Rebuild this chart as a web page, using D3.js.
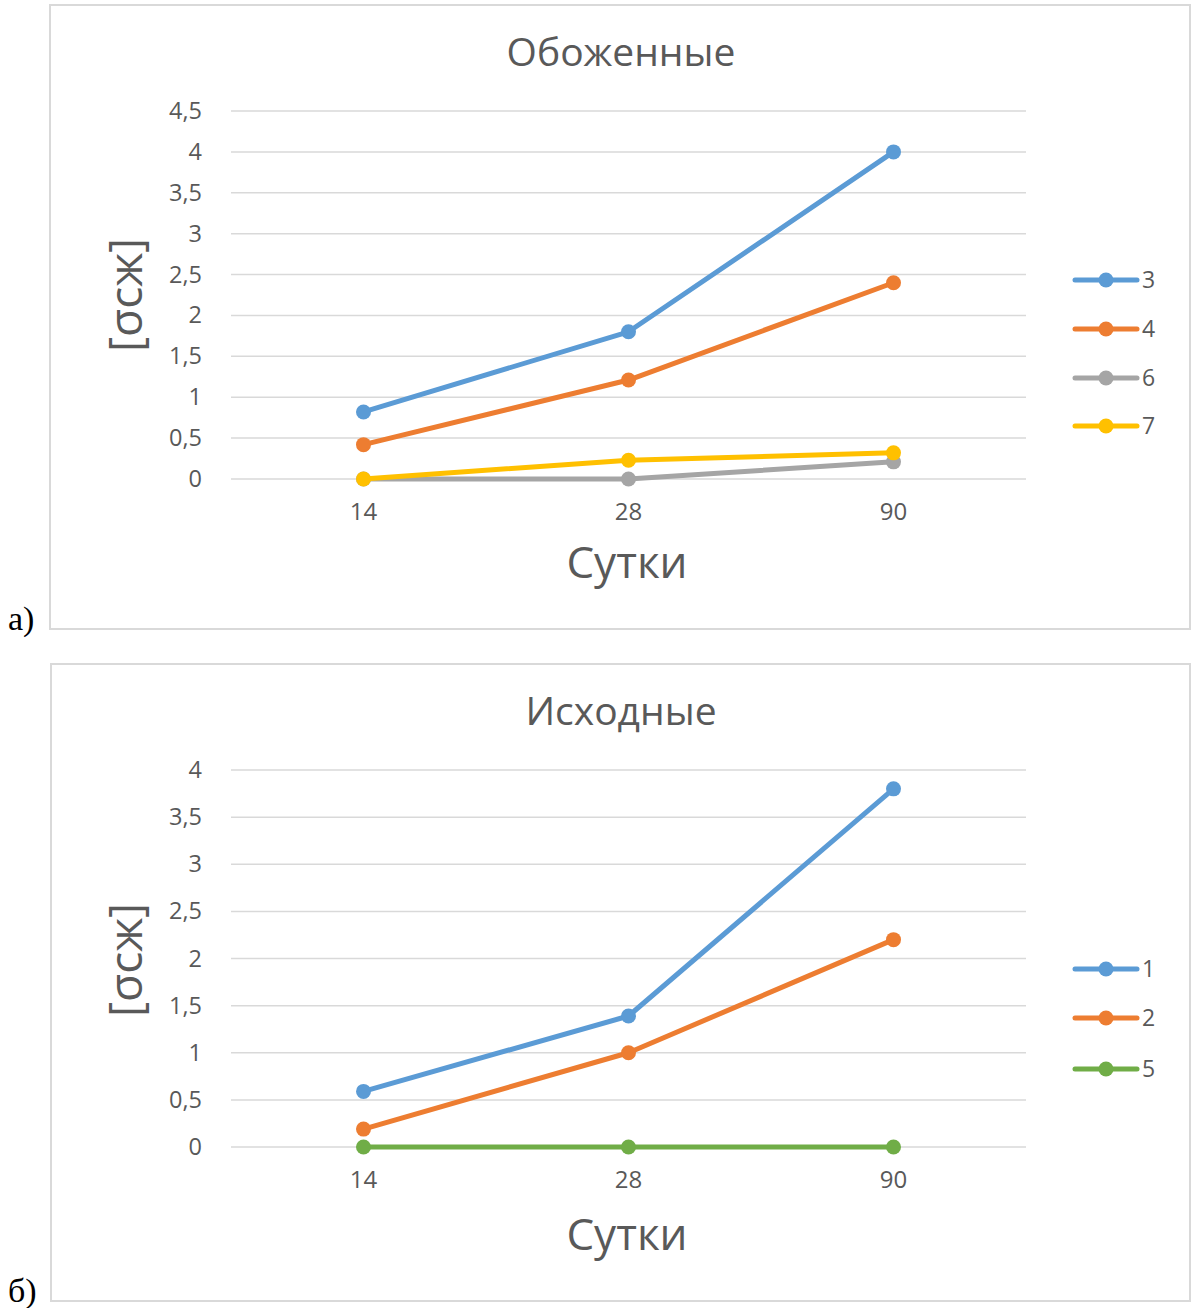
<!DOCTYPE html>
<html>
<head>
<meta charset="utf-8">
<title>Обоженные / Исходные</title>
<script src="https://d3js.org/d3.v7.min.js"></script>
<style>
  body { margin: 0; background: #fff; }
  svg { display: block; }
</style>
</head>
<body>
<svg id="chart" width="1192" height="1308"></svg>
<script>
// categories (days)
var days = ["14", "28", "90"];

// chart a) - burnt samples
var seriesA = ["3", "4", "6", "7"];
var valuesA3 = [0.82, 1.8, 4.0];
var valuesA4 = [0.42, 1.21, 2.4];
var valuesA6 = [0, 0, 0.21];
var valuesA7 = [0, 0.23, 0.32];
var ticksA = [0, 0.5, 1, 1.5, 2, 2.5, 3, 3.5, 4, 4.5];

// chart б) - initial samples
var seriesB = ["1", "2", "5"];
var valuesB1 = [0.59, 1.39, 3.8];
var valuesB2 = [0.19, 1.0, 2.2];
var valuesB5 = [0, 0, 0];
var ticksB = [0, 0.5, 1, 1.5, 2, 2.5, 3, 3.5, 4];

var colors = {
  "1": "#5B9BD5", "2": "#ED7D31", "3": "#5B9BD5", "4": "#ED7D31",
  "5": "#70AD47", "6": "#A5A5A5", "7": "#FFC000"
};

var svg = d3.select("#chart");
var sans = "'Open Sans', 'Noto Sans', sans-serif";
var txt = "#595959";

function fmt(v) { return String(v).replace(".", ","); }

function drawChart(cfg) {
  var g = svg.append("g");

  g.append("rect")
    .attr("x", cfg.box[0]).attr("y", cfg.box[1])
    .attr("width", cfg.box[2]).attr("height", cfg.box[3])
    .attr("fill", "#fff").attr("stroke", "#d9d9d9").attr("stroke-width", 2);

  var x = d3.scaleBand().domain(days).range([231, 1026]);
  var y = d3.scaleLinear().domain([0, cfg.ymax]).range([cfg.y0, cfg.ytop]);

  // gridlines
  g.selectAll(".grid").data(cfg.ticks).enter().append("line")
    .attr("x1", 231).attr("x2", 1026)
    .attr("y1", function (d) { return y(d); })
    .attr("y2", function (d) { return y(d); })
    .attr("stroke", "#d9d9d9").attr("stroke-width", 1.5);

  // y axis labels
  var ay = d3.axisLeft(y).tickValues(cfg.ticks).tickSize(0).tickPadding(29).tickFormat(fmt);
  var gy = g.append("g").attr("transform", "translate(231,0)").call(ay);
  gy.select(".domain").remove();
  gy.selectAll("text").attr("font-family", sans).attr("font-size", 23.5).attr("fill", txt);

  // x axis labels
  var ax = d3.axisBottom(x).tickSize(0).tickPadding(24);
  var gx = g.append("g").attr("transform", "translate(0," + cfg.y0 + ")").call(ax);
  gx.select(".domain").remove();
  gx.selectAll("text").attr("font-family", sans).attr("font-size", 24).attr("fill", txt);

  // title
  g.append("text").attr("x", 621).attr("y", cfg.titleY)
    .attr("text-anchor", "middle").attr("font-family", sans)
    .attr("font-size", 39).attr("fill", txt).text(cfg.title);

  // x title
  g.append("text").attr("x", 627).attr("y", cfg.xTitleY)
    .attr("text-anchor", "middle").attr("font-family", sans)
    .attr("font-size", 44).attr("fill", txt).text("Сутки");

  // y title
  g.append("text")
    .attr("transform", "translate(142," + cfg.yTitleY + ") rotate(-90)")
    .attr("text-anchor", "middle").attr("font-family", sans)
    .attr("font-size", 46).attr("fill", txt).text("[σсж]");

  var line = d3.line()
    .x(function (d, i) { return x(days[i]) + x.bandwidth() / 2; })
    .y(function (d) { return y(d); });

  cfg.series.forEach(function (s) {
    var c = colors[s.name];
    g.append("path").datum(s.values)
      .attr("d", line).attr("fill", "none")
      .attr("stroke", c).attr("stroke-width", 5).attr("stroke-linejoin", "round");
    g.selectAll(null).data(s.values).enter().append("circle")
      .attr("cx", function (d, i) { return x(days[i]) + x.bandwidth() / 2; })
      .attr("cy", function (d) { return y(d); })
      .attr("r", 7.5).attr("fill", c);
  });

  // legend
  cfg.series.forEach(function (s, i) {
    var ly = cfg.legendY[i];
    var c = colors[s.name];
    g.append("line").attr("x1", 1075).attr("x2", 1137).attr("y1", ly).attr("y2", ly)
      .attr("stroke", c).attr("stroke-width", 5).attr("stroke-linecap", "round");
    g.append("circle").attr("cx", 1106).attr("cy", ly).attr("r", 7.5).attr("fill", c);
    g.append("text").attr("x", 1142).attr("y", ly).attr("dy", "0.36em")
      .attr("font-family", sans).attr("font-size", 23).attr("fill", txt).text(s.name);
  });

  // panel label
  svg.append("text").attr("x", 8).attr("y", cfg.panelY)
    .attr("font-family", "'Liberation Serif', 'DejaVu Serif', serif")
    .attr("font-size", 34).attr("fill", "#000").text(cfg.panel);
}

drawChart({
  box: [50, 5, 1140, 624],
  ymax: 4.5, y0: 479, ytop: 111,
  ticks: ticksA,
  title: "Обоженные", titleY: 66,
  xTitleY: 578, yTitleY: 295,
  legendY: [280, 329, 378, 426],
  panel: "а)", panelY: 630,
  series: [
    { name: seriesA[0], values: valuesA3 },
    { name: seriesA[1], values: valuesA4 },
    { name: seriesA[2], values: valuesA6 },
    { name: seriesA[3], values: valuesA7 }
  ]
});

drawChart({
  box: [51, 664, 1139, 637],
  ymax: 4, y0: 1147, ytop: 770,
  ticks: ticksB,
  title: "Исходные", titleY: 725,
  xTitleY: 1250, yTitleY: 960,
  legendY: [969, 1018, 1069],
  panel: "б)", panelY: 1302,
  series: [
    { name: seriesB[0], values: valuesB1 },
    { name: seriesB[1], values: valuesB2 },
    { name: seriesB[2], values: valuesB5 }
  ]
});
</script>
</body>
</html>
